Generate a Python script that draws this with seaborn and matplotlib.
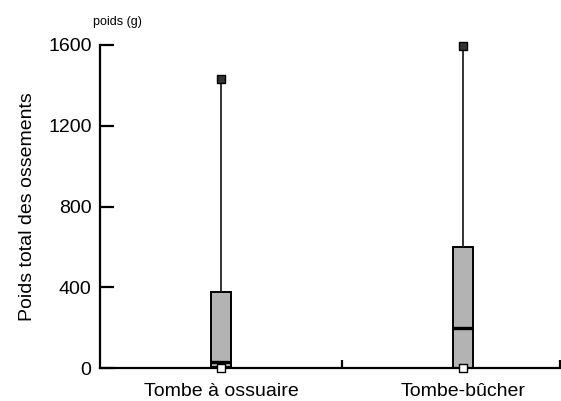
import numpy as np
import pandas as pd
import matplotlib
matplotlib.use("Agg")
import matplotlib.pyplot as plt
import matplotlib.lines as mlines
import seaborn as sns
from matplotlib.ticker import FixedLocator

categories = ["Tombe à ossuaire", "Tombe-bûcher"]
mins = [0, 0]
q1s = [5, 0]
medians = [30, 200]
q3s = [375, 600]
maxs = [1430, 1595]
yticks = [0, 400, 800, 1200, 1600]

sns.set_theme(style="white")
plt.rcParams["font.family"] = ["Liberation Sans", "DejaVu Sans"]
plt.rcParams["text.color"] = "black"
plt.rcParams["axes.labelcolor"] = "black"
plt.rcParams["xtick.color"] = "black"
plt.rcParams["ytick.color"] = "black"
plt.rcParams["xtick.direction"] = "in"
plt.rcParams["ytick.direction"] = "in"

rows = []
for c, a, b, m, d, e in zip(categories, mins, q1s, medians, q3s, maxs):
    for v in (a, b, m, d, e):
        rows.append({"cat": c, "val": v})
df = pd.DataFrame(rows)

fig = plt.figure(figsize=(5.61, 4.01), dpi=100)
ax = fig.add_axes([0.178, 0.082, 0.82, 0.806])

sns.boxplot(data=df, x="cat", y="val", order=categories, whis=(0, 100),
            width=0.08, showcaps=False, showfliers=False, ax=ax,
            color="#b3b3b3", linecolor="black", linewidth=1.4,
            medianprops=dict(color="black", linewidth=2.4),
            whiskerprops=dict(color="#222222", linewidth=1.3),
            boxprops=dict(facecolor="#b3b3b3", edgecolor="black"))

mx = pd.DataFrame({"cat": categories, "val": maxs})
mn = pd.DataFrame({"cat": categories, "val": mins})
sns.stripplot(data=mx, x="cat", y="val", order=categories, jitter=False,
              marker="s", size=6, color="#333333", edgecolor="black",
              linewidth=1, ax=ax, zorder=5)
sns.stripplot(data=mn, x="cat", y="val", order=categories, jitter=False,
              marker="s", size=6, color="white", edgecolor="black",
              linewidth=1, ax=ax, zorder=5)
for coll in ax.collections:
    coll.set_clip_on(False)

ax.set_xlim(-0.5, 1.4)
ax.set_ylim(0, 1600)
ax.set_yticks(yticks)
ax.set_yticklabels([str(t) for t in yticks], fontsize=14)
ax.set_xticks(range(len(categories)))
ax.set_xticklabels(categories, fontsize=14)
ax.xaxis.set_minor_locator(FixedLocator([0.5, 1.4]))
ax.tick_params(axis="x", which="major", bottom=True, length=0, pad=11)
ax.tick_params(axis="x", which="minor", bottom=True, direction="in", length=6, width=1.6, color="black")
ax.tick_params(axis="y", which="major", left=True, direction="in", length=10, width=1.6, color="black", pad=6)
ax.set_xlabel("")
ax.set_ylabel("Poids total des ossements", fontsize=14, labelpad=9)

for s in ["top", "right"]:
    ax.spines[s].set_visible(False)
for s in ["left", "bottom"]:
    ax.spines[s].set_color("black")
    ax.spines[s].set_linewidth(1.6)

fig.text(0.165, 0.945, "poids (g)", fontsize=9, ha="left", va="center")

fig.canvas.draw()
for t in ax.yaxis.get_major_ticks():
    t.tick1line.set_marker(mlines.TICKRIGHT)
    t.tick1line.set_markersize(10)
    t.tick1line.set_markeredgewidth(1.6)

fig.savefig("out.png", dpi=100)
